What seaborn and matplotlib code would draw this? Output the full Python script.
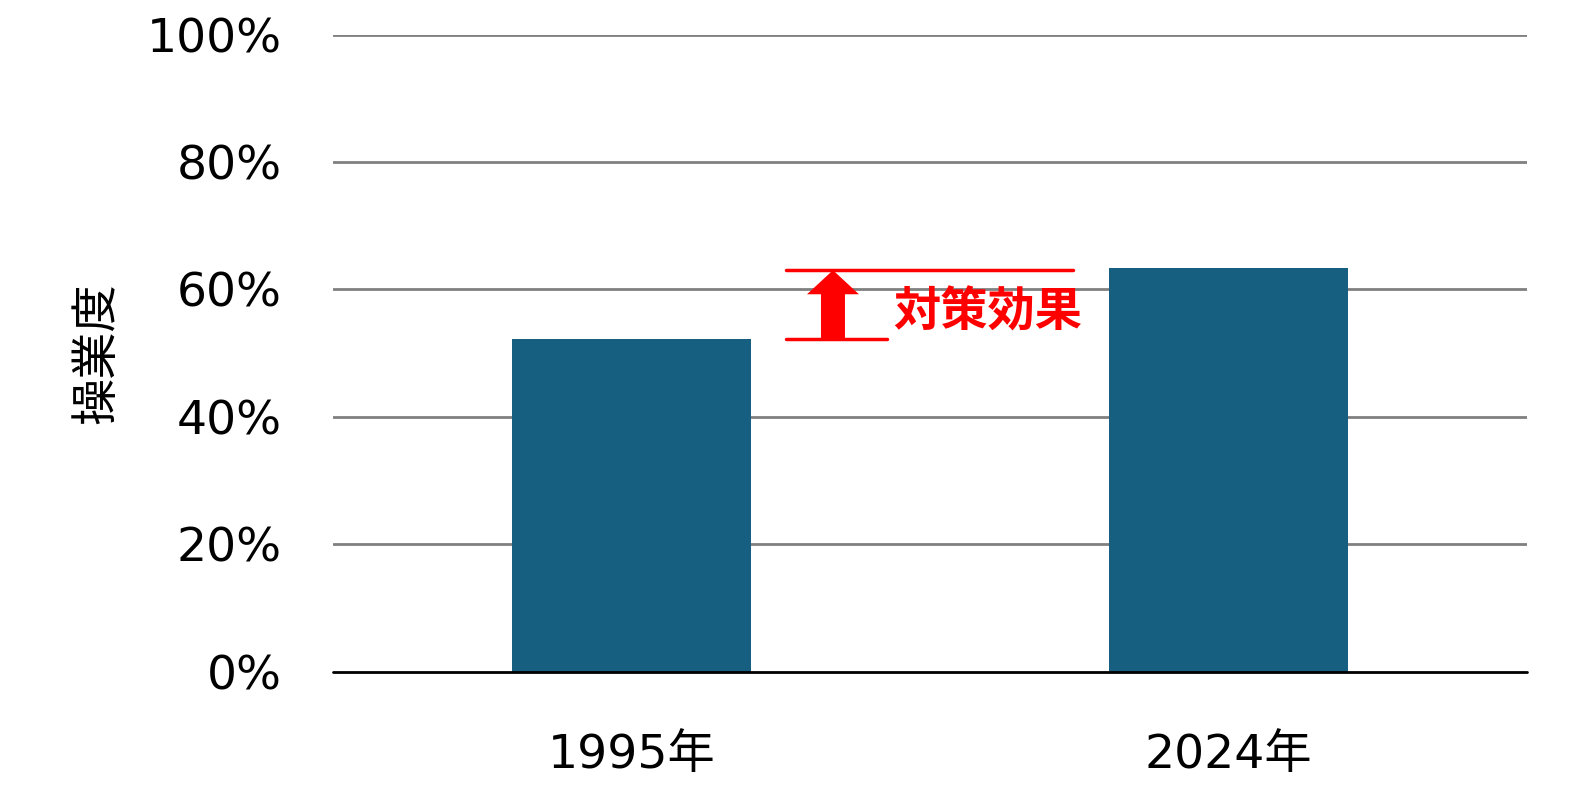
import matplotlib.pyplot as plt
import seaborn as sns
import pandas as pd
from matplotlib.patches import FancyArrow

# data
years = ["1995年", "2024年"]
utilization = [52.2, 63.3]
y_ticks = [0, 20, 40, 60, 80, 100]
y_tick_labels = ["0%", "20%", "40%", "60%", "80%", "100%"]

BAR_COLOR = "#175f80"
RED = "#ff0000"

sns.set_theme(style="white")
plt.rcParams["font.family"] = ["DejaVu Sans", "Noto Sans CJK JP"]

df = pd.DataFrame({"year": years, "rate": utilization})

fig = plt.figure(figsize=(15.93, 7.86), dpi=100)
ax = fig.add_axes([0.209, 0.1455, 0.7496, 0.8106])

# gridlines behind bars
for t in y_ticks[1:]:
    ax.axhline(t, color="#808080", linewidth=2, zorder=0)

sns.barplot(data=df, x="year", y="rate", color=BAR_COLOR, saturation=1,
            width=0.4, linewidth=0, ax=ax, zorder=2)
ax.axhline(0, color="black", linewidth=2, zorder=3, clip_on=False)

ax.set_xlim(-0.5, 1.5)
ax.set_ylim(0, 100)
ax.set_yticks(y_ticks)
ax.set_yticklabels(y_tick_labels)
ax.tick_params(axis="y", length=0, labelsize=34, pad=37, colors="black")
ax.tick_params(axis="x", length=0, labelsize=34, pad=44, colors="black")
ax.set_xlabel("")
ax.set_ylabel("操業度", fontsize=34, color="black", family=["Noto Sans CJK JP"])
ax.yaxis.set_label_coords(-0.1775, 0.5)
for s in ax.spines.values():
    s.set_visible(False)

# "対策効果" annotation
lo, hi = utilization
ax.plot([0.259, 0.74], [hi - 0.3, hi - 0.3], color=RED, linewidth=2.5, zorder=4, clip_on=False)
ax.plot([0.259, 0.428], [lo, lo], color=RED, linewidth=2.5, zorder=4, clip_on=False)
arrow = FancyArrow(0.3375, lo, 0, hi - 0.3 - lo, width=0.0402, head_width=0.087,
                   head_length=3.77, length_includes_head=True,
                   color=RED, linewidth=0, zorder=4)
ax.add_patch(arrow)
ax.text(0.438, 56.4, "対策効果", color=RED, fontsize=34, fontweight="bold",
        family=["Noto Sans CJK JP"], ha="left", va="center", zorder=4)

fig.savefig("out.png")
